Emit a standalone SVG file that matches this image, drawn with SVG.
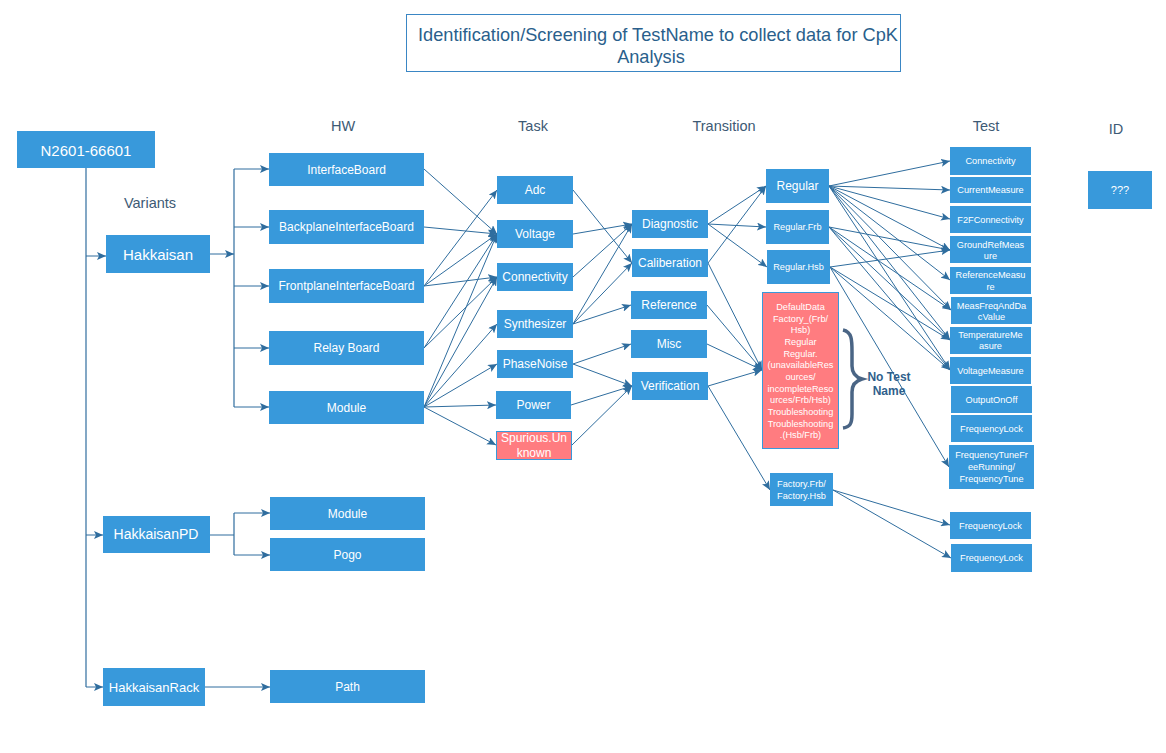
<svg xmlns="http://www.w3.org/2000/svg" width="1166" height="753" viewBox="0 0 1166 753">
<style>
.n{fill:#3899db;}
.r{fill:#ff7c80;stroke:#3899db;stroke-width:1;}
.t{fill:#fff;font-family:"Liberation Sans",Arial,sans-serif;text-anchor:middle;dominant-baseline:central;}
.h{fill:#3d5a75;font-family:"Liberation Sans",Arial,sans-serif;text-anchor:middle;dominant-baseline:central;font-size:14.5px;}
.c{stroke:#2f6d9e;stroke-width:1;fill:none;marker-end:url(#a);}
.p{stroke:#2f6d9e;stroke-width:1.2;fill:none;}
.f12{font-size:12px;}
.f9{font-size:9.2px;}
</style>
<defs>
<marker id="a" markerUnits="userSpaceOnUse" markerWidth="10" markerHeight="8" refX="9" refY="4" orient="auto">
<path d="M0,0 L9,4 L0,8 L2,4 z" fill="#2f6d9e"/>
</marker>
</defs>
<rect width="1166" height="753" fill="#fff"/>

<g id="title">
<rect x="406.5" y="14.5" width="494" height="57" fill="#fff" stroke="#3a86c4" stroke-width="1"/>
<text x="658" y="35" font-family="Liberation Sans,Arial,sans-serif" font-size="18.2" fill="#2a5f8c" text-anchor="middle" dominant-baseline="central">Identification/Screening of TestName to collect data for CpK</text>
<text x="651" y="57" font-family="Liberation Sans,Arial,sans-serif" font-size="18.2" fill="#2a5f8c" text-anchor="middle" dominant-baseline="central">Analysis</text>
</g>

<g id="headers">
<text class="h" x="343" y="126">HW</text>
<text class="h" x="533" y="126">Task</text>
<text class="h" x="724" y="126">Transition</text>
<text class="h" x="986" y="126">Test</text>
<text class="h" x="1116" y="129" font-size="15.5px">ID</text>
<text class="h" x="150" y="203">Variants</text>
</g>

<g id="connectors">
<path class="p" d="M86,168 V687"/>
<path class="c" d="M86,256 H106"/>
<path class="c" d="M86,535 H103"/>
<path class="c" d="M86,687 H103"/>
<path class="c" d="M210,254 H234"/>
<path class="p" d="M234,169 V407"/>
<path class="c" d="M234,169 H269"/>
<path class="c" d="M234,227 H269"/>
<path class="c" d="M234,286 H269"/>
<path class="c" d="M234,348 H269"/>
<path class="c" d="M234,407 H269"/>
<path class="p" d="M210,535 H234 M234,513 V555"/>
<path class="c" d="M234,513 H270"/>
<path class="c" d="M234,555 H270"/>
<path class="c" d="M205,687 H270"/>
<path class="c" d="M424,169 L497,234"/>
<path class="c" d="M424,227 L497,234"/>
<path class="c" d="M424,286 L497,190"/>
<path class="c" d="M424,286 L497,234"/>
<path class="c" d="M424,286 L497,277"/>
<path class="c" d="M424,348 L497,234"/>
<path class="c" d="M424,348 L497,277"/>
<path class="c" d="M424,407 L497,234"/>
<path class="c" d="M424,407 L497,277"/>
<path class="c" d="M424,407 L497,324"/>
<path class="c" d="M424,407 L497,364"/>
<path class="c" d="M424,407 L496,405"/>
<path class="c" d="M424,407 L496,445"/>
<path class="c" d="M573,190 L632,263"/>
<path class="c" d="M573,234 L632,224"/>
<path class="c" d="M573,277 L632,224"/>
<path class="c" d="M573,324 L632,224"/>
<path class="c" d="M573,324 L632,263"/>
<path class="c" d="M573,324 L631,305"/>
<path class="c" d="M573,364 L631,344"/>
<path class="c" d="M573,364 L632,386"/>
<path class="c" d="M571,405 L632,386"/>
<path class="c" d="M572,445 L632,386"/>
<path class="c" d="M708,224 L766,186"/>
<path class="c" d="M708,224 L766,227"/>
<path class="c" d="M708,224 L767,267"/>
<path class="c" d="M708,263 L766,186"/>
<path class="c" d="M708,263 L762,370"/>
<path class="c" d="M707,305 L762,370"/>
<path class="c" d="M707,344 L762,370"/>
<path class="c" d="M708,386 L762,370"/>
<path class="c" d="M708,386 L770,490"/>
<path class="c" d="M829,186 L950,161"/>
<path class="c" d="M829,186 L950,190"/>
<path class="c" d="M829,186 L950,219"/>
<path class="c" d="M829,186 L950,250"/>
<path class="c" d="M829,186 L950,280"/>
<path class="c" d="M829,186 L951,310"/>
<path class="c" d="M829,186 L950,340"/>
<path class="c" d="M829,186 L950,370"/>
<path class="c" d="M829,227 L950,250"/>
<path class="c" d="M829,227 L951,310"/>
<path class="c" d="M829,227 L950,340"/>
<path class="c" d="M829,227 L950,370"/>
<path class="c" d="M830,267 L950,250"/>
<path class="c" d="M830,267 L950,340"/>
<path class="c" d="M830,267 L950,370"/>
<path class="c" d="M830,267 L949,467"/>
<path class="c" d="M833,490 L950,525"/>
<path class="c" d="M833,490 L951,558"/>
</g>

<g id="n-root"><rect class="n" x="17" y="131" width="138" height="37"/><text class="t" x="86" y="150" font-size="15">N2601-66601</text></g>
<g id="n-hakkaisan"><rect class="n" x="106" y="235" width="104" height="38"/><text class="t" x="158" y="254" font-size="15">Hakkaisan</text></g>
<g id="n-hakkaisanpd"><rect class="n" x="103" y="516" width="107" height="37"/><text class="t" x="156" y="534" font-size="14">HakkaisanPD</text></g>
<g id="n-hakkaisanrack"><rect class="n" x="103" y="668" width="102" height="38"/><text class="t" x="154" y="687" font-size="13">HakkaisanRack</text></g>

<g id="n-interfaceboard"><rect class="n" x="269" y="153" width="155" height="33"/><text class="t f12" x="346.5" y="169.5">InterfaceBoard</text></g>
<g id="n-backplane"><rect class="n" x="269" y="210" width="155" height="34"/><text class="t f12" x="346.5" y="227">BackplaneInterfaceBoard</text></g>
<g id="n-frontplane"><rect class="n" x="269" y="269" width="155" height="34"/><text class="t f12" x="346.5" y="286">FrontplaneInterfaceBoard</text></g>
<g id="n-relayboard"><rect class="n" x="269" y="331" width="155" height="34"/><text class="t f12" x="346.5" y="348">Relay Board</text></g>
<g id="n-module"><rect class="n" x="269" y="391" width="155" height="33"/><text class="t f12" x="346.5" y="407.5">Module</text></g>
<g id="n-pd-module"><rect class="n" x="270" y="497" width="155" height="33"/><text class="t f12" x="347.5" y="513.5">Module</text></g>
<g id="n-pogo"><rect class="n" x="270" y="538" width="155" height="33"/><text class="t f12" x="347.5" y="554.5">Pogo</text></g>
<g id="n-path"><rect class="n" x="270" y="670" width="155" height="33"/><text class="t f12" x="347.5" y="686.5">Path</text></g>

<g id="n-adc"><rect class="n" x="497" y="176" width="76" height="28"/><text class="t f12" x="535" y="190">Adc</text></g>
<g id="n-voltage"><rect class="n" x="497" y="220" width="76" height="28"/><text class="t f12" x="535" y="234">Voltage</text></g>
<g id="n-connectivity"><rect class="n" x="497" y="263" width="76" height="28"/><text class="t f12" x="535" y="277">Connectivity</text></g>
<g id="n-synthesizer"><rect class="n" x="497" y="310" width="76" height="28"/><text class="t f12" x="535" y="324">Synthesizer</text></g>
<g id="n-phasenoise"><rect class="n" x="497" y="350" width="76" height="28"/><text class="t f12" x="535" y="364">PhaseNoise</text></g>
<g id="n-power"><rect class="n" x="496" y="391" width="75" height="28"/><text class="t f12" x="533.5" y="405">Power</text></g>
<g id="n-spurious"><rect class="r" x="496.5" y="431.5" width="75" height="28"/><text class="t f12" x="534" y="438">Spurious.Un</text><text class="t f12" x="534" y="452.5">known</text></g>

<g id="n-diagnostic"><rect class="n" x="632" y="210" width="76" height="28"/><text class="t f12" x="670" y="224">Diagnostic</text></g>
<g id="n-caliberation"><rect class="n" x="632" y="249" width="76" height="28"/><text class="t f12" x="670" y="263">Caliberation</text></g>
<g id="n-reference"><rect class="n" x="631" y="291" width="76" height="28"/><text class="t f12" x="669" y="305">Reference</text></g>
<g id="n-misc"><rect class="n" x="631" y="330" width="76" height="28"/><text class="t f12" x="669" y="344">Misc</text></g>
<g id="n-verification"><rect class="n" x="632" y="372" width="76" height="28"/><text class="t f12" x="670" y="386">Verification</text></g>

<g id="n-regular"><rect class="n" x="766" y="169" width="63" height="34"/><text class="t f12" x="797.5" y="186">Regular</text></g>
<g id="n-regular-frb"><rect class="n" x="766" y="210" width="63" height="34"/><text class="t f9" x="797.5" y="227">Regular.Frb</text></g>
<g id="n-regular-hsb"><rect class="n" x="767" y="250" width="63" height="34"/><text class="t f9" x="798.5" y="267">Regular.Hsb</text></g>
<g id="n-notestname"><rect class="r" x="762.5" y="292.5" width="76" height="156"/>
<text class="t f9" x="800.5" y="307">DefaultData</text>
<text class="t f9" x="800.5" y="318.5">Factory_(Frb/</text>
<text class="t f9" x="800.5" y="330">Hsb)</text>
<text class="t f9" x="800.5" y="342">Regular</text>
<text class="t f9" x="800.5" y="353.5">Regular.</text>
<text class="t f9" x="800.5" y="365">(unavailableRes</text>
<text class="t f9" x="800.5" y="377">ources/</text>
<text class="t f9" x="800.5" y="388.5">incompleteReso</text>
<text class="t f9" x="800.5" y="400">urces/Frb/Hsb)</text>
<text class="t f9" x="800.5" y="412">Troubleshooting</text>
<text class="t f9" x="800.5" y="423.5">Troubleshooting</text>
<text class="t f9" x="800.5" y="435">.(Hsb/Frb)</text>
</g>
<g id="n-factory"><rect class="n" x="770" y="473" width="63" height="33"/><text class="t f9" x="801.5" y="483.5">Factory.Frb/</text><text class="t f9" x="801.5" y="496">Factory.Hsb</text></g>

<g id="brace">
<path d="M843,330 C852,332 852,340 852,352 L852,366 C852,373 855,377 862,379 C855,381 852,385 852,392 L852,414 C852,424 850,427 843,428" fill="none" stroke="#4a6585" stroke-width="3.5"/>
<text x="889" y="377" font-family="Liberation Sans,Arial,sans-serif" font-size="12" font-weight="bold" fill="#2f5f8c" text-anchor="middle" dominant-baseline="central">No Test</text>
<text x="889" y="390.5" font-family="Liberation Sans,Arial,sans-serif" font-size="12" font-weight="bold" fill="#2f5f8c" text-anchor="middle" dominant-baseline="central">Name</text>
</g>

<g id="n-test-connectivity"><rect class="n" x="950" y="147" width="81" height="28"/><text class="t f9" x="990.5" y="161">Connectivity</text></g>
<g id="n-test-currentmeasure"><rect class="n" x="950" y="177" width="81" height="26"/><text class="t f9" x="990.5" y="190">CurrentMeasure</text></g>
<g id="n-test-f2f"><rect class="n" x="950" y="206" width="81" height="27"/><text class="t f9" x="990.5" y="219.5">F2FConnectivity</text></g>
<g id="n-test-groundref"><rect class="n" x="950" y="236" width="81" height="27"/><text class="t f9" x="990.5" y="245">GroundRefMeas</text><text class="t f9" x="990.5" y="256">ure</text></g>
<g id="n-test-refmeasure"><rect class="n" x="950" y="267" width="81" height="27"/><text class="t f9" x="990.5" y="275">ReferenceMeasu</text><text class="t f9" x="990.5" y="287">re</text></g>
<g id="n-test-measfreq"><rect class="n" x="951" y="297" width="81" height="27"/><text class="t f9" x="991.5" y="305.5">MeasFreqAndDa</text><text class="t f9" x="991.5" y="317">cValue</text></g>
<g id="n-test-temperature"><rect class="n" x="950" y="327" width="81" height="27"/><text class="t f9" x="990.5" y="334.5">TemperatureMe</text><text class="t f9" x="990.5" y="346">asure</text></g>
<g id="n-test-voltagemeasure"><rect class="n" x="950" y="357" width="81" height="27"/><text class="t f9" x="990.5" y="370.5">VoltageMeasure</text></g>
<g id="n-test-outputonoff"><rect class="n" x="951" y="386" width="81" height="27"/><text class="t f9" x="991.5" y="399.5">OutputOnOff</text></g>
<g id="n-test-frequencylock"><rect class="n" x="951" y="415" width="81" height="27"/><text class="t f9" x="991.5" y="428.5">FrequencyLock</text></g>
<g id="n-test-frequencytune"><rect class="n" x="949" y="445" width="85" height="44"/><text class="t f9" x="991.5" y="455">FrequencyTuneFr</text><text class="t f9" x="991.5" y="467">eeRunning/</text><text class="t f9" x="991.5" y="479">FrequencyTune</text></g>
<g id="n-test-frequencylock2"><rect class="n" x="950" y="512" width="81" height="27"/><text class="t f9" x="990.5" y="525.5">FrequencyLock</text></g>
<g id="n-test-frequencylock3"><rect class="n" x="951" y="544" width="81" height="28"/><text class="t f9" x="991.5" y="558">FrequencyLock</text></g>

<g id="n-id"><rect class="n" x="1088" y="171" width="64" height="38"/><text class="t" x="1120" y="190" font-size="11">???</text></g>
</svg>
